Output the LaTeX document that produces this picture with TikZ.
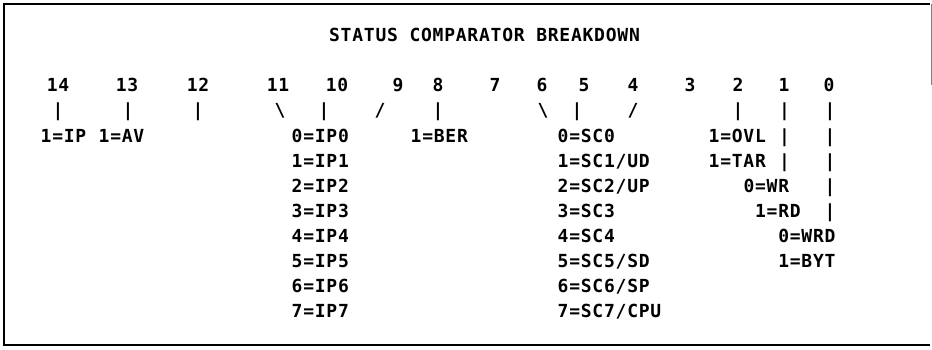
\documentclass[tikz,border=0pt]{standalone}
\usepackage{fontspec}
\newfontfamily\cmpmono{DejaVu Sans Mono}[LetterSpace=4.2]
\begin{document}
\begin{tikzpicture}[x=1pt,y=-1pt,
  txt/.style={font=\cmpmono\bfseries\fontsize{18pt}{18pt}\selectfont, inner sep=0pt, anchor=base west},
  ctr/.style={txt, anchor=base},
  frameline/.style={line width=1.8pt},
  faintline/.style={gray, line width=0.8pt}]
\useasboundingbox (0,0) rectangle (932,349);
% frame
\draw[frameline] (930,4) -- (4,4) -- (4,345) -- (930,345);
\draw[faintline] (931,4) -- (931,85);
% title
\node[ctr] (title) at (484.5,41.5) {STATUS COMPARATOR BREAKDOWN};
% bit numbers
\node[ctr] (n14) at (58,91.5) {14};
\node[ctr] (n13) at (127,91.5) {13};
\node[ctr] (n12) at (198,91.5) {12};
\node[ctr] (n11) at (278,91.5) {11};
\node[ctr] (n10) at (337,91.5) {10};
\node[ctr] (n9) at (398,91.5) {9};
\node[ctr] (n8) at (438,91.5) {8};
\node[ctr] (n7) at (495,91.5) {7};
\node[ctr] (n6) at (542,91.5) {6};
\node[ctr] (n5) at (584,91.5) {5};
\node[ctr] (n4) at (633,91.5) {4};
\node[ctr] (n3) at (690,91.5) {3};
\node[ctr] (n2) at (738,91.5) {2};
\node[ctr] (n1) at (784,91.5) {1};
\node[ctr] (n0) at (829,91.5) {0};
% bar row
\node[ctr] (b14) at (58,116.5) {|};
\node[ctr] (b13) at (128,116.5) {|};
\node[ctr] (b12) at (198,116.5) {|};
\node[ctr] (b11) at (280,116.5) {\symbol{92}};
\node[ctr] (b10) at (324,116.5) {|};
\node[ctr] (b9) at (380,116.5) {/};
\node[ctr] (b8) at (438,116.5) {|};
\node[ctr] (b6) at (543,116.5) {\symbol{92}};
\node[ctr] (b5) at (577,116.5) {|};
\node[ctr] (b4) at (633,116.5) {/};
\node[ctr] (b2) at (738,116.5) {|};
\node[ctr] (b1) at (784.5,116.5) {|};
\node[ctr] (b0) at (830,116.5) {|};
% row 0
\node[txt] (ip) at (40.5,142.5) {1=IP};
\node[txt] (av) at (98.5,142.5) {1=AV};
\node[txt] (ip0) at (291.5,142.5) {0=IP0};
\node[txt] (ber) at (410.5,142.5) {1=BER};
\node[txt] (sc0) at (557.5,142.5) {0=SC0};
\node[txt] (ovl) at (708.5,142.5) {1=OVL};
\node[ctr] (r0b1) at (784.5,142.5) {|};
\node[ctr] (r0b0) at (830,142.5) {|};
% row 1
\node[txt] (ip1) at (291.5,167.5) {1=IP1};
\node[txt] (sc1) at (557.5,167.5) {1=SC1/UD};
\node[txt] (tar) at (708.5,167.5) {1=TAR};
\node[ctr] (r1b1) at (784.5,167.5) {|};
\node[ctr] (r1b0) at (830,167.5) {|};
% row 2
\node[txt] (ip2) at (291.5,192.5) {2=IP2};
\node[txt] (sc2) at (557.5,192.5) {2=SC2/UP};
\node[txt] (wr) at (743.3,192.5) {0=WR};
\node[ctr] (r2b0) at (830,192.5) {|};
% row 3
\node[txt] (ip3) at (291.5,217.5) {3=IP3};
\node[txt] (sc3) at (557.5,217.5) {3=SC3};
\node[txt] (rd) at (754.9,217.5) {1=RD};
\node[ctr] (r3b0) at (830,217.5) {|};
% row 4
\node[txt] (ip4) at (291.5,242.5) {4=IP4};
\node[txt] (sc4) at (557.5,242.5) {4=SC4};
\node[txt] (wrd) at (778.1,242.5) {0=WRD};
% row 5
\node[txt] (ip5) at (291.5,267.5) {5=IP5};
\node[txt] (sc5) at (557.5,267.5) {5=SC5/SD};
\node[txt] (byt) at (778.1,267.5) {1=BYT};
% row 6
\node[txt] (ip6) at (291.5,292.5) {6=IP6};
\node[txt] (sc6) at (557.5,292.5) {6=SC6/SP};
% row 7
\node[txt] (ip7) at (291.5,317.5) {7=IP7};
\node[txt] (sc7) at (557.5,317.5) {7=SC7/CPU};
\end{tikzpicture}
\end{document}
